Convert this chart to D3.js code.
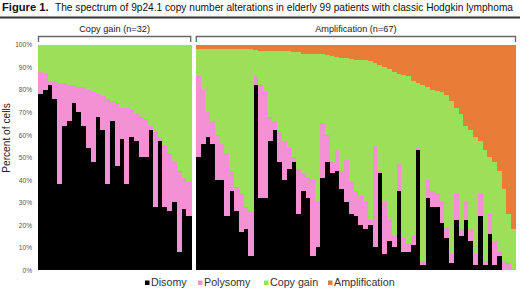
<!DOCTYPE html>
<html><head><meta charset="utf-8">
<script src="https://cdn.jsdelivr.net/npm/d3@7/dist/d3.min.js"></script>
<style>body{margin:0;background:#fff}svg{display:block}text{font-family:"Liberation Sans",Arial,sans-serif}</style>
</head><body><svg id="chart" width="520" height="290"></svg>
<script>
// ---- data ----
const seriesNames = ["Disomy", "Polysomy", "Copy gain", "Amplification"];
const seriesColors = ["#000000", "#f490d4", "#9ce05a", "#e97d37"];
const yTickValues = [0, 10, 20, 30, 40, 50, 60, 70, 80, 90, 100];
const yTickLabels = ["0%", "10%", "20%", "30%", "40%", "50%", "60%", "70%", "80%", "90%", "100%"];
const panelTitles = ["Copy gain (n=32)", "Amplification (n=67)"];

// Copy gain group (32 patients), percent of cells
const gainDisomy    = [78, 80, 82, 76, 38, 64, 66, 74, 70, 64, 54, 48, 68, 62, 38, 66, 46, 58, 38, 59, 57, 50, 50, 62, 28, 57, 28, 26, 30, 8, 27, 24];
const gainPolysomy  = [10, 7, 2, 8, 45, 19, 16, 8, 11, 17, 26, 31, 10, 15, 38, 9, 28, 14, 34, 12, 12, 18, 17, 2, 33, 2, 27, 26, 18, 36, 14, 15];
const gainCopyGain  = [12, 13, 16, 16, 17, 17, 18, 18, 19, 19, 20, 21, 22, 23, 24, 25, 26, 28, 28, 29, 31, 32, 33, 36, 39, 41, 45, 48, 52, 56, 59, 61];
const gainAmplification = new Array(32).fill(0);

// Amplification group (67 patients), percent of cells
const ampDisomy   = [50, 56, 59, 56, 40, 40, 24, 35, 26, 17, 18, 6, 82, 32, 32, 57, 62, 48, 40, 45, 48, 25, 35, 32, 6, 10, 41, 48, 43, 44, 36, 30, 25, 24, 20, 18, 20, 10, 43, 7, 13, 10, 35, 8, 8, 11, 53, 2, 32, 28, 28, 21, 14, 3, 22, 15, 22, 13, 2, 24, 2, 16, 2, 6, 0, 0, 0];
const ampPolysomy = [36, 24, 11, 10, 20, 16, 28, 9, 11, 17, 10, 20, 4, 50, 47, 11, 4, 13, 17, 9, 2, 20, 8, 9, 34, 20, 24, 12, 5, 9, 8, 19, 14, 11, 13, 12, 2, 45, 1, 23, 9, 5, 12, 6, 4, 4, 1, 2, 8, 7, 6, 9, 5, 4, 12, 3, 8, 5, 5, 10, 2, 9, 11, 2, 4, 3, 0];
const ampCopyGain = [12, 18, 28, 32, 38, 42, 46, 54, 61, 64, 70, 72, 11.5, 15, 18, 29, 31, 36, 40, 43, 46.5, 51.5, 53, 55, 56, 66, 31, 35.5, 47, 41.5, 50, 45, 54.5, 58, 60, 63, 70.5, 37, 47, 60, 67, 73, 40, 72.5, 74, 69, 29, 78, 41, 45, 45.5, 49, 58.5, 68, 38, 51, 34, 44, 52, 23, 49, 25, 35, 36, 32, 22, 18];
const ampAmplification = [2, 2, 2, 2, 2, 2, 2, 2, 2, 2, 2, 2, 2.5, 3, 3, 3, 3, 3, 3, 3, 3.5, 3.5, 4, 4, 4, 4, 4, 4.5, 5, 5.5, 6, 6, 6.5, 7, 7, 7, 7.5, 8, 9, 10, 11, 12, 13, 13.5, 14, 16, 17, 18, 19, 20, 20.5, 21, 22.5, 25, 28, 31, 36, 38, 41, 43, 47, 50, 52, 56, 64, 75, 82];

// ---- chart ----
const svg = d3.select("#chart");
const font = '"Liberation Sans", Arial, sans-serif';

// Title
const title = svg.append("text").attr("x", 2).attr("y", 11).attr("fill", "#111");
title.append("tspan").attr("font-weight", "bold").attr("font-size", 11.2).text("Figure 1.");
title.append("tspan").attr("x", 55).attr("font-size", 10.2).attr("textLength", 458).attr("lengthAdjust", "spacingAndGlyphs")
  .text("The spectrum of 9p24.1 copy number alterations in elderly 99 patients with classic Hodgkin lymphoma");
svg.append("line").attr("x1", 0).attr("x2", 520).attr("y1", 17.5).attr("y2", 17.5)
  .attr("stroke", "#333").attr("stroke-width", 2);

const y = d3.scaleLinear().domain([0, 100]).range([270, 44.5]);

const panels = [
  {title: panelTitles[0], range: [38, 191.2], cols: [gainDisomy, gainPolysomy, gainCopyGain, gainAmplification]},
  {title: panelTitles[1], range: [195.8, 516], cols: [ampDisomy, ampPolysomy, ampCopyGain, ampAmplification]}
];

const stack = d3.stack().keys(seriesNames);

panels.forEach(p => {
  const n = p.cols[0].length;
  const rows = d3.range(n).map(i => {
    const r = {id: i};
    seriesNames.forEach((k, s) => r[k] = p.cols[s][i]);
    return r;
  });
  const x = d3.scaleBand().domain(d3.range(n)).range(p.range).padding(0);
  const layers = stack(rows);
  const g = svg.append("g").attr("shape-rendering", "crispEdges");
  g.selectAll("g").data(layers).join("g")
    .attr("fill", (d, i) => seriesColors[i])
    .selectAll("rect").data(d => d).join("rect")
    .attr("x", d => x(d.data.id))
    .attr("width", x.bandwidth() + 0.4)
    .attr("y", d => y(d[1]))
    .attr("height", d => Math.max(0, y(d[0]) - y(d[1])));

  // bracket
  const [x0, x1] = p.range;
  svg.append("path")
    .attr("d", `M${x0 + 0.5},42 V36.5 H${x1 - 0.5} V42`)
    .attr("fill", "none").attr("stroke", "#666").attr("stroke-width", 1.3);
  svg.append("text").attr("x", (x0 + x1) / 2).attr("y", 32)
    .attr("text-anchor", "middle").attr("font-size", 9.2).attr("fill", "#222")
    .text(p.title);
});

// Y axis labels
const yAxis = d3.axisLeft(y).tickValues(yTickValues).tickFormat((d, i) => yTickLabels[i]).tickSize(0).tickPadding(0);
const ya = svg.append("g").attr("transform", "translate(32,0)").call(yAxis);
ya.select(".domain").remove();
ya.selectAll("text").attr("font-size", 6.6).attr("fill", "#555").attr("font-family", font).attr("dy", "0.35em");

svg.append("text").attr("transform", "translate(10,138) rotate(-90)")
  .attr("text-anchor", "middle").attr("font-size", 10.2).attr("fill", "#222")
  .text("Percent of cells");

// Legend
const legendX = [145, 198, 264, 328];
const lg = svg.append("g");
seriesNames.forEach((name, i) => {
  lg.append("rect").attr("x", legendX[i]).attr("y", 280.5).attr("width", 4.5).attr("height", 4.5).attr("fill", seriesColors[i]);
  lg.append("text").attr("x", legendX[i] + 6).attr("y", 286).attr("font-size", 10.7).attr("fill", "#333").text(name);
});
</script></body></html>
